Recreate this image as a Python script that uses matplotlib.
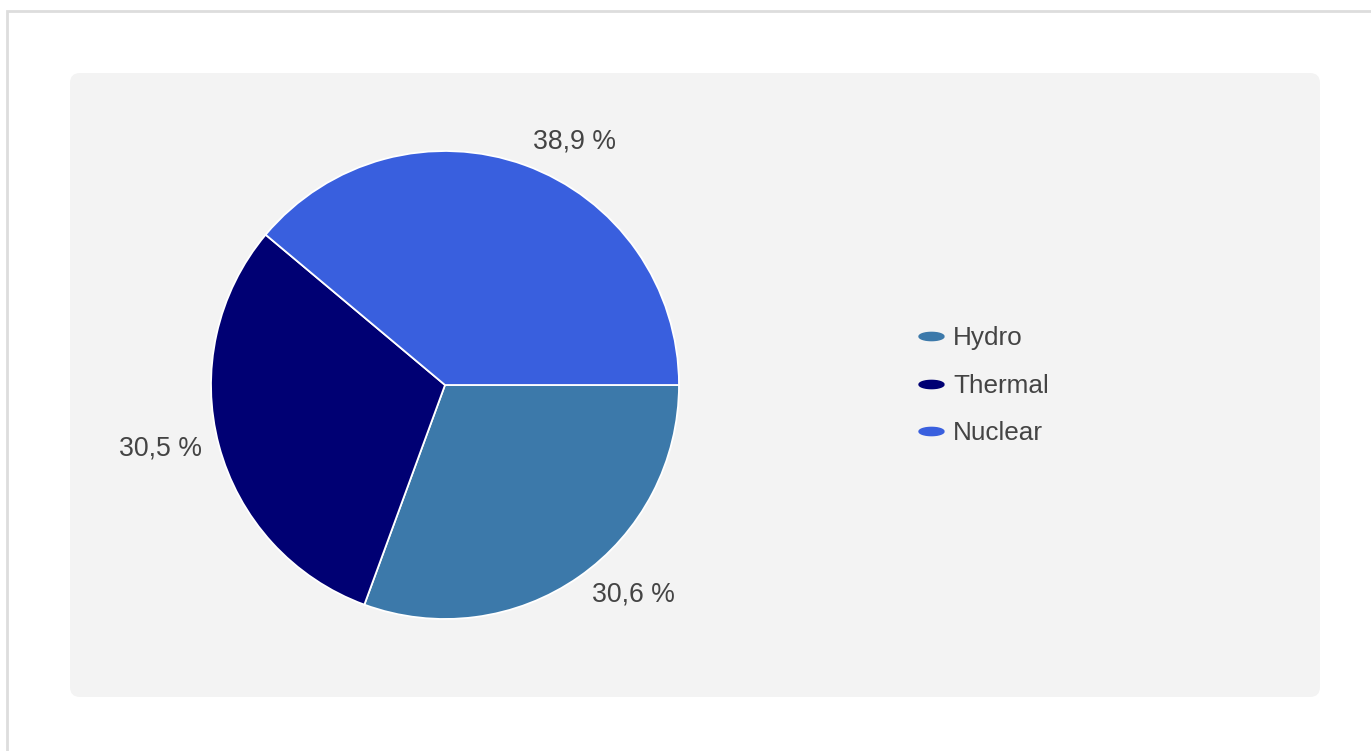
import matplotlib.pyplot as plt
from matplotlib.patches import FancyBboxPatch, Rectangle
from matplotlib.lines import Line2D
from matplotlib.path import Path
import numpy as np

# data
sources = ["Hydro", "Thermal", "Nuclear"]
shares = [30.6, 30.5, 38.9]
colors = ["#3c79aa", "#000073", "#395fde"]

W, H = 1371, 751
CX, CY, R = 445, H - 385, 234
FS = 19.2

fig = plt.figure(figsize=(W / 100, H / 100), dpi=100)
fig.patch.set_facecolor("white")
ax = fig.add_axes([0, 0, 1, 1])
ax.set_xlim(0, W)
ax.set_ylim(0, H)
ax.set_aspect("equal")
ax.axis("off")

# outer frame (top and left edge visible)
ax.add_patch(Rectangle((6.5, -5), W, H - 10 - 0.5 + 5, fill=False,
                       edgecolor="#dddddd", linewidth=2))
# grey panel
ax.add_patch(FancyBboxPatch((80, H - 687), 1230, 604,
                            boxstyle="round,pad=10,rounding_size=10",
                            facecolor="#f3f3f3", edgecolor="none"))

labels = [f"{v:.1f} %".replace(".", ",") for v in shares]
wedges, texts = ax.pie(shares, colors=colors, labels=labels,
                       startangle=0, counterclock=False,
                       center=(CX, CY), radius=R,
                       labeldistance=1.11,
                       wedgeprops=dict(edgecolor="white", linewidth=1.3),
                       textprops=dict(fontsize=FS, color="#444444",
                                      family="Liberation Sans"))
ax.set_xlim(0, W)
ax.set_ylim(0, H)

# push each label out along its mid angle until its box clears the pie
fig.canvas.draw()
half_h = 0.72 * FS * 100 / 72 / 2
clear = 249
for w, t in zip(wedges, texts):
    mid = np.deg2rad((w.theta1 + w.theta2) / 2)
    c, s = np.cos(mid), np.sin(mid)
    t.set_ha("left" if c > 0 else "right")
    tw = t.get_window_extent().width
    for d in np.arange(R, R + 80, 0.5):
        ax_, ay_ = d * c, d * s
        x0, x1 = (ax_, ax_ + tw) if c > 0 else (ax_ - tw, ax_)
        nx = np.clip(0, x0, x1)
        ny = np.clip(0, ay_ - half_h, ay_ + half_h)
        if np.hypot(nx, ny) >= clear:
            break
    t.set_position((CX + ax_, CY + ay_ + 1))

# legend with ellipse markers
tt = np.linspace(0, 2 * np.pi, 60)
ell = Path(np.column_stack([np.cos(tt) * 1.0, np.sin(tt) * 0.33]))
handles = [Line2D([], [], linestyle="none", marker=ell, markersize=18,
                  markerfacecolor=col, markeredgecolor=col) for col in colors]
leg = ax.legend(handles, sources, loc="center left",
                bbox_to_anchor=(892 / W, 1 - 386 / H),
                frameon=False, handlelength=1.2, handletextpad=0.25,
                labelspacing=0.9,
                prop=dict(family="Liberation Sans", size=18.8))
for txt in leg.get_texts():
    txt.set_color("#444444")

fig.savefig("out.png", dpi=100, facecolor="white")
